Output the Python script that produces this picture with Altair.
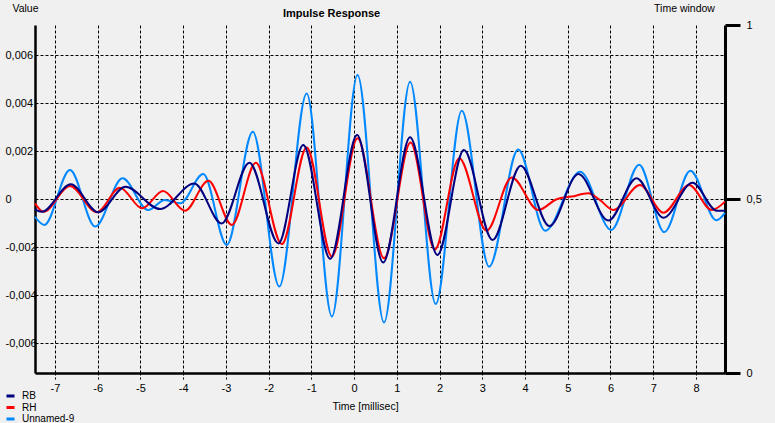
import altair as alt
import pandas as pd

# Time in milliseconds, value in data units
rb_t = [-7.47, -7.31, -6.63, -5.99, -5.35, -4.54, -3.74, -3.10, -2.45, -1.77, -1.19, -0.56,
        0.07, 0.68, 1.31, 1.95, 2.57, 3.24, 3.90, 4.57, 5.25, 5.95, 6.61, 7.24, 7.92, 8.49, 8.68]
rb_v = [-0.00043, -0.00053, 0.00061, -0.00055, 0.00051, -0.00042, 0.00065, -0.00102, 0.00151,
        -0.00185, 0.00225, -0.00249, 0.00267, -0.00265, 0.00257, -0.00233, 0.00204, -0.00171,
        0.00139, -0.00113, 0.00104, -0.00090, 0.00086, -0.00078, 0.00068, -0.00049, -0.00049]

rh_t = [-7.47, -7.27, -6.65, -6.02, -5.48, -4.96, -4.47, -3.96, -3.41, -2.86, -2.30, -1.69,
        -1.11, -0.52, 0.08, 0.70, 1.32, 1.89, 2.46, 3.10, 3.69, 4.31, 4.74, 5.09, 5.48, 5.75,
        6.07, 6.69, 7.24, 7.84, 8.37, 8.68]
rh_v = [-0.00018, -0.00053, 0.00054, -0.00055, 0.00047, -0.00039, 0.00033, -0.00049, 0.00076,
        -0.00108, 0.00151, -0.00188, 0.00215, -0.00240, 0.00253, -0.00247, 0.00235, -0.00210,
        0.00170, -0.00132, 0.00090, -0.00046, -0.00001, 0.00010, 0.00024, -0.00004, -0.00046,
        0.00058, -0.00057, 0.00058, -0.00046, -0.00011]

u9_t = [-7.47, -7.25, -6.65, -6.06, -5.42, -4.82, -4.43, -4.07, -3.53, -2.98, -2.37, -1.75,
        -1.11, -0.52, 0.08, 0.70, 1.31, 1.91, 2.52, 3.16, 3.84, 4.47, 5.29, 6.02, 6.67, 7.26,
        7.87, 8.48, 8.68]
u9_v = [-0.00074, -0.00108, 0.00121, -0.00115, 0.00086, -0.00046, -0.00004, -0.00018, 0.00104,
        -0.00192, 0.00280, -0.00365, 0.00440, -0.00490, 0.00517, -0.00515, 0.00489, -0.00438,
        0.00368, -0.00282, 0.00206, -0.00132, 0.00114, -0.00129, 0.00143, -0.00138, 0.00118,
        -0.00089, -0.00058]

series_names = ["RB", "RH", "Unnamed-9"]
series_colors = ["#000080", "#FF0000", "#0088FF"]
x_ticks = [-7, -6, -5, -4, -3, -2, -1, 0, 1, 2, 3, 4, 5, 6, 7, 8]
y_ticks = [-0.006, -0.004, -0.002, 0, 0.002, 0.004, 0.006]
window_ticks = [0, 0.5, 1]

rows = []
for name, ts, vs in [("RB", rb_t, rb_v), ("RH", rh_t, rh_v), ("Unnamed-9", u9_t, u9_v)]:
    for t, v in zip(ts, vs):
        rows.append({"t": t, "v": v, "series": name})
df = pd.DataFrame(rows)
win = pd.DataFrame({"w": [0.0, 1.0]})

FONT = "Liberation Sans"

x_enc = alt.X(
    "t:Q",
    scale=alt.Scale(domain=[-7.468, 8.68], nice=False, zero=False),
    axis=alt.Axis(
        values=x_ticks,
        labelExpr="datum.value < 0 ? '-' + abs(datum.value) : '' + datum.value",
        grid=True, gridDash=[3, 2], gridColor="black", gridWidth=1, gridOpacity=1,
        ticks=True, tickSize=7, tickDash=[2, 2], tickColor="black", tickWidth=1,
        domainColor="black", domainWidth=2.5,
        labelFont=FONT, labelFontSize=11, labelColor="black", labelPadding=2,
        title="Time [millisec]", titleFont=FONT, titleFontSize=10.5, titleFontWeight="normal",
        titleColor="black", titleX=330, titleY=33, titleAlign="center", titleBaseline="middle",
        titleAnchor="start",
    ),
)

y_enc = alt.Y(
    "v:Q",
    scale=alt.Scale(domain=[-0.00725, 0.00725], nice=False, zero=False),
    axis=alt.Axis(
        orient="left", values=y_ticks,
        labelExpr="datum.value == 0 ? '0' : (datum.value < 0 ? '-' : '') + replace(format(abs(datum.value), '.3f'), '.', ',')",
        grid=True, gridDash=[3, 2], gridColor="black", gridWidth=1, gridOpacity=1,
        ticks=False, tickSize=0, domainColor="black", domainWidth=2.5,
        labelFont=FONT, labelFontSize=11, labelColor="black", labelAlign="left",
        labelPadding=30, labelBaseline="middle",
        title="Value", titleFont=FONT, titleFontSize=10.5, titleFontWeight="normal",
        titleColor="black", titleAngle=0, titleX=-10, titleY=-17, titleAlign="center",
        titleBaseline="middle",
    ),
)

color_enc = alt.Color(
    "series:N",
    scale=alt.Scale(domain=series_names, range=series_colors),
    legend=alt.Legend(
        orient="none", legendX=-30, legendY=366, title=None,
        symbolType="stroke", symbolStrokeWidth=3, symbolSize=64,
        labelFont=FONT, labelFontSize=10, labelColor="black", labelOffset=6,
        rowPadding=1.5, clipHeight=10, padding=0,
    ),
)

base = alt.Chart(df).mark_line(interpolate="monotone", strokeWidth=2).encode(
    x=x_enc, y=y_enc, color=color_enc
)

lines = alt.layer(
    base.transform_filter(alt.datum.series == "Unnamed-9"),
    base.transform_filter(alt.datum.series == "RH"),
    base.transform_filter(alt.datum.series == "RB"),
)

right = alt.Chart(win).mark_rule(opacity=0).encode(
    y=alt.Y(
        "w:Q",
        scale=alt.Scale(domain=[0, 1], nice=False, zero=False),
        axis=alt.Axis(
            orient="right", values=window_ticks,
            labelExpr="datum.value == 0.5 ? '0,5' : '' + datum.value",
            grid=False, ticks=True, tickSize=15, tickWidth=3, tickColor="black",
            domainColor="black", domainWidth=3,
            labelFont=FONT, labelFontSize=11, labelColor="black", labelPadding=6,
            labelAlign="left", labelBaseline="middle",
            title="Time window", titleFont=FONT, titleFontSize=10.5, titleFontWeight="normal",
            titleColor="black", titleAngle=0, titleX=-41, titleY=-17, titleAlign="center",
            titleBaseline="middle",
        ),
    )
)

chart = alt.layer(lines, right).resolve_scale(y="independent").properties(
    width=690, height=348,
    title=alt.TitleParams(
        "Impulse Response", font=FONT, fontSize=11, fontWeight="bold", color="black",
        anchor="start", frame="group", dx=248, dy=25, offset=0, baseline="alphabetic",
    ),
    autosize=alt.AutoSizeParams(type="none"),
    padding={"left": 35, "top": 25, "right": 50, "bottom": 50},
).configure(background="#F0F0F0").configure_view(strokeWidth=0)

chart.save("out.html", embed_options={"renderer": "svg", "actions": False})
